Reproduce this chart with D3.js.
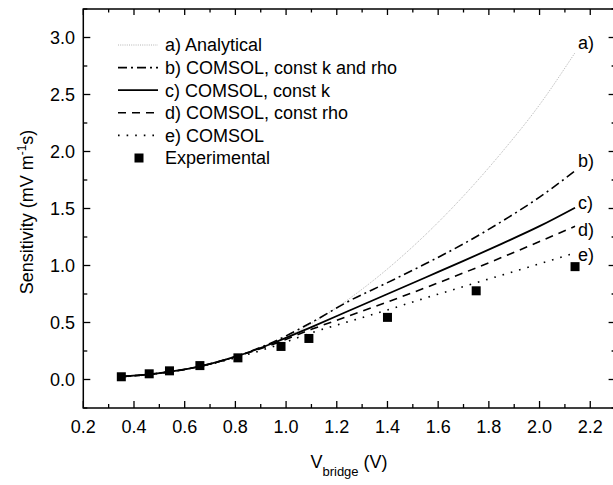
<!DOCTYPE html>
<html>
<head>
<meta charset="utf-8">
<script src="https://cdn.jsdelivr.net/npm/d3@7"></script>
<style>
  html, body { margin: 0; padding: 0; background: #fff; }
  text { font-family: "Liberation Sans", Arial, sans-serif; fill: #000; }
</style>
</head>
<body>
<div id="chart"></div>
<script>
// Sensitivity vs bridge voltage — Analytical vs COMSOL vs Experimental

const vGrid = [0.35, 0.5, 0.65, 0.8, 0.95, 1.1, 1.25, 1.4, 1.55, 1.7, 1.85, 2.0, 2.14];

const analytical  = [0.02, 0.05, 0.11, 0.2, 0.32, 0.49, 0.71, 0.97, 1.27, 1.61, 1.99, 2.41, 2.867];
const constKRho   = [0.025, 0.055, 0.11, 0.2, 0.33, 0.5, 0.69, 0.85, 1.015, 1.19, 1.385, 1.6, 1.83];
const constK      = [0.025, 0.055, 0.11, 0.2, 0.32, 0.46, 0.605, 0.75, 0.895, 1.04, 1.19, 1.345, 1.507];
const constRho    = [0.025, 0.055, 0.11, 0.2, 0.31, 0.44, 0.56, 0.68, 0.805, 0.935, 1.07, 1.21, 1.344];
const comsol      = [0.025, 0.055, 0.11, 0.19, 0.29, 0.41, 0.51, 0.61, 0.715, 0.815, 0.915, 1.015, 1.11];

const expV = [0.35, 0.46, 0.54, 0.66, 0.81, 0.98, 1.09, 1.40, 1.75, 2.14];
const expS = [0.024, 0.05, 0.076, 0.122, 0.19, 0.29, 0.36, 0.545, 0.778, 0.99];

const xTicks = [0.2, 0.4, 0.6, 0.8, 1.0, 1.2, 1.4, 1.6, 1.8, 2.0, 2.2];
const yTicks = [0.0, 0.5, 1.0, 1.5, 2.0, 2.5, 3.0];

const seriesNames = ["a) Analytical", "b) COMSOL, const k and rho", "c) COMSOL, const k", "d) COMSOL, const rho", "e) COMSOL"];
const endLabels = ["a)", "b)", "c)", "d)", "e)"];

const W = 613, H = 485;
const svg = d3.select("#chart").append("svg").attr("width", W).attr("height", H);

const x = d3.scaleLinear().domain([0.2, 2.3]).range([83.3, 615.6]);
const y = d3.scaleLinear().domain([-0.25, 3.25]).range([408, 9]);

// Linienstile je Serie
const styles = [
  { stroke: "#b4b4b4", width: 1, dash: "1,1.2" },
  { stroke: "#000", width: 1.6, dash: "9,4,2,4" },
  { stroke: "#000", width: 1.8, dash: null },
  { stroke: "#000", width: 1.6, dash: "8,6" },
  { stroke: "#000", width: 1.6, dash: "1.6,7" }
];
const allSeries = [analytical, constKRho, constK, constRho, comsol];

// Rahmen
svg.append("rect")
  .attr("x", x.range()[0]).attr("y", y.range()[1])
  .attr("width", x.range()[1] - x.range()[0])
  .attr("height", y.range()[0] - y.range()[1])
  .attr("fill", "none").attr("stroke", "#000").attr("stroke-width", 1.5);

// Ticks nach innen, auf allen vier Seiten
const xMinor = d3.range(0.3, 2.3, 0.2);
const yMinor = d3.range(-0.25, 3.3, 0.5);
const tickG = svg.append("g").attr("stroke", "#000").attr("stroke-width", 1.3);
const x0 = x.range()[0], x1 = x.range()[1], y0 = y.range()[0], y1 = y.range()[1];
xTicks.forEach(v => {
  tickG.append("line").attr("x1", x(v)).attr("x2", x(v)).attr("y1", y0).attr("y2", y0 - 7);
  tickG.append("line").attr("x1", x(v)).attr("x2", x(v)).attr("y1", y1).attr("y2", y1 + 6);
});
xMinor.forEach(v => {
  tickG.append("line").attr("x1", x(v)).attr("x2", x(v)).attr("y1", y0).attr("y2", y0 - 4);
  tickG.append("line").attr("x1", x(v)).attr("x2", x(v)).attr("y1", y1).attr("y2", y1 + 3.5);
});
yTicks.forEach(v => {
  tickG.append("line").attr("x1", x0).attr("x2", x0 + 7).attr("y1", y(v)).attr("y2", y(v));
  tickG.append("line").attr("x1", x1).attr("x2", x1 - 7).attr("y1", y(v)).attr("y2", y(v));
});
yMinor.forEach(v => {
  tickG.append("line").attr("x1", x0).attr("x2", x0 + 4).attr("y1", y(v)).attr("y2", y(v));
  tickG.append("line").attr("x1", x1).attr("x2", x1 - 4).attr("y1", y(v)).attr("y2", y(v));
});

// Tick-Beschriftungen
svg.append("g").selectAll("text").data(xTicks).join("text")
  .attr("x", d => x(d)).attr("y", 433)
  .attr("text-anchor", "middle")
  .style("font-size", "18px")
  .text(d => d3.format(".1f")(d));

svg.append("g").selectAll("text").data(yTicks).join("text")
  .attr("x", 75).attr("y", d => y(d)).attr("dy", "0.36em")
  .attr("text-anchor", "end")
  .style("font-size", "18px")
  .text(d => d3.format(".1f")(d));

// Achsentitel
const xt = svg.append("text").attr("x", 349).attr("y", 468).attr("text-anchor", "middle").style("font-size", "18px");
xt.append("tspan").text("V");
xt.append("tspan").attr("dy", 8).style("font-size", "13px").text("bridge");
xt.append("tspan").attr("dy", -8).text(" (V)");

const yt = svg.append("text").attr("transform", "translate(33,212) rotate(-90)").attr("text-anchor", "middle").style("font-size", "18px");
yt.append("tspan").text("Sensitivity (mV m");
yt.append("tspan").attr("dy", -7).style("font-size", "12px").text("-1");
yt.append("tspan").attr("dy", 7).text("s)");

// Kurven
const line = d3.line().x(d => x(d[0])).y(d => y(d[1])).curve(d3.curveMonotoneX);
const labelShift = [-10, -10, -5, 3.5, 2];
allSeries.forEach((vals, i) => {
  const st = styles[i];
  svg.append("path")
    .datum(vGrid.map((v, j) => [v, vals[j]]))
    .attr("d", line)
    .attr("fill", "none")
    .attr("stroke", st.stroke)
    .attr("stroke-width", st.width)
    .attr("stroke-dasharray", st.dash);
  svg.append("text")
    .attr("x", 578).attr("y", y(vals[vals.length - 1]) + labelShift[i])
    .attr("dy", "0.36em")
    .style("font-size", "18px")
    .text(endLabels[i]);
});

// Messpunkte
svg.append("g").selectAll("rect").data(expV).join("rect")
  .attr("x", d => x(d) - 4.5)
  .attr("y", (d, i) => y(expS[i]) - 4.5)
  .attr("width", 9).attr("height", 9)
  .attr("fill", "#000");

// Legende
const lg = svg.append("g");
const rowY = i => 45 + i * 22.6;
seriesNames.forEach((name, i) => {
  const st = styles[i];
  lg.append("line")
    .attr("x1", 118).attr("x2", 158).attr("y1", rowY(i)).attr("y2", rowY(i))
    .attr("stroke", st.stroke).attr("stroke-width", st.width)
    .attr("stroke-dasharray", st.dash);
  lg.append("text").attr("x", 165).attr("y", rowY(i)).attr("dy", "0.36em")
    .style("font-size", "18px").text(name);
});
lg.append("rect").attr("x", 139 - 4.5).attr("y", rowY(5) - 4.5).attr("width", 9).attr("height", 9).attr("fill", "#000");
lg.append("text").attr("x", 165).attr("y", rowY(5)).attr("dy", "0.36em")
  .style("font-size", "18px").text("Experimental");
</script>
</body>
</html>
